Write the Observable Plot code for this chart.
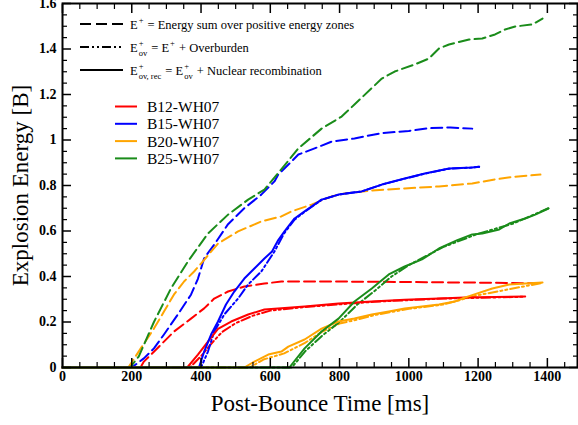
<!DOCTYPE html>
<html><head><meta charset="utf-8">
<script src="https://cdn.jsdelivr.net/npm/d3@7"></script>
<script src="https://cdn.jsdelivr.net/npm/@observablehq/plot@0.6"></script>
<style>
body{margin:0;background:#fff}
#chart{position:relative;width:578px;height:425px;overflow:hidden}
</style>
</head><body><div id="chart"></div>
<script>
// ---------- data ----------
const models = ["B12-WH07","B15-WH07","B20-WH07","B25-WH07"];
const modelColors = ["#ff0000","#0000ff","#ffa500","#1a8c1a"];

const xMajorTicks = [0,200,400,600,800,1000,1200,1400];
const xTickLabels = ["0","200","400","600","800","1000","1200","1400"];
const yMajorTicks = [0,0.2,0.4,0.6,0.8,1.0,1.2,1.4,1.6];
const yTickLabels = ["0","0.2","0.4","0.6","0.8","1","1.2","1.4","1.6"];

const xLabel = "Post-Bounce Time [ms]";
const yLabel = "Explosion Energy [B]";

// B12 – red
const b12PosT = [0,225,235,284,322,371,409,438,478,525,583,632,750,900,1050,1200,1362];
const b12PosE = [0,0,0.026,0.10,0.158,0.215,0.26,0.303,0.334,0.356,0.369,0.378,0.378,0.377,0.375,0.373,0.370];
const b12OvT  = [0,368,400,430,460,500,550,600,700,900,1100,1336];
const b12OvE  = [0,0,0.05,0.105,0.155,0.195,0.228,0.25,0.266,0.289,0.303,0.311];
const b12RecT = [0,360,391,420,449,487,536,583,632,699,797,893,988,1087,1162,1336];
const b12RecE = [0,0,0.057,0.114,0.17,0.202,0.233,0.255,0.26,0.268,0.281,0.29,0.298,0.303,0.308,0.312];

// B15 – blue
const b15PosT = [0,200,235,264,293,333,371,391,409,438,478,525,574,612,623,661,681,728,777,843,922,1000,1060,1120,1183];
const b15PosE = [0,0,0.04,0.084,0.145,0.233,0.32,0.39,0.48,0.54,0.63,0.70,0.76,0.818,0.848,0.905,0.936,0.963,0.993,1.007,1.03,1.04,1.052,1.055,1.05];
const b15OvT  = [0,400,420,438,467,507,536,574,612,640,670,699,748,797,864,922,988,1046,1116,1183,1203];
const b15OvE  = [0,0,0.07,0.158,0.233,0.303,0.365,0.422,0.51,0.59,0.65,0.684,0.737,0.76,0.774,0.804,0.83,0.852,0.874,0.879,0.882];
const b15RecT = [0,394,409,429,449,472,496,525,554,583,605,612,623,641,670,699,748,797,864,922,988,1046,1116,1183,1203];
const b15RecE = [0,0,0.07,0.145,0.202,0.277,0.334,0.391,0.435,0.479,0.51,0.53,0.56,0.598,0.655,0.686,0.738,0.76,0.774,0.804,0.831,0.853,0.875,0.879,0.882];

// B20 – orange
const b20PosT = [0,190,226,264,293,322,351,380,400,449,507,574,632,661,719,777,814,893,988,1087,1183,1250,1300,1340,1380];
const b20PosE = [0,0,0.084,0.171,0.246,0.321,0.378,0.422,0.457,0.545,0.598,0.642,0.664,0.686,0.716,0.752,0.765,0.778,0.787,0.796,0.809,0.827,0.838,0.843,0.848];
const b20OvT  = [0,540,580,640,700,750,800,850,900,1000,1100,1200,1386];
const b20OvE  = [0,0,0.035,0.062,0.108,0.158,0.193,0.21,0.23,0.258,0.277,0.318,0.372];
const b20RecT = [0,525,554,594,632,652,699,748,797,843,893,942,988,1038,1087,1133,1154,1183,1241,1290,1336,1386];
const b20RecE = [0,0,0.026,0.057,0.07,0.092,0.123,0.171,0.202,0.215,0.233,0.246,0.259,0.268,0.277,0.29,0.303,0.318,0.347,0.365,0.369,0.374];

// B25 – green
const b25PosT = [0,195,220,264,313,362,420,478,536,583,623,681,748,806,843,922,959,1017,1058,1087,1116,1174,1212,1249,1278,1307,1357,1386];
const b25PosE = [0,0,0.048,0.20,0.347,0.466,0.589,0.672,0.738,0.782,0.855,0.963,1.05,1.103,1.156,1.27,1.301,1.332,1.358,1.402,1.42,1.442,1.446,1.464,1.486,1.499,1.508,1.534];
const b25OvT  = [0,662,700,750,800,850,900,950,1000,1100,1200,1300,1403];
const b25OvE  = [0,0,0.07,0.14,0.2,0.275,0.335,0.40,0.45,0.53,0.588,0.632,0.70];
const b25RecT = [0,655,699,748,797,843,893,942,988,1038,1087,1140,1183,1212,1261,1290,1336,1365,1403];
const b25RecE = [0,0,0.084,0.158,0.215,0.29,0.347,0.409,0.444,0.475,0.523,0.56,0.585,0.589,0.607,0.633,0.655,0.672,0.699];

const kinds = ["pos","ov","rec"];
const kindDash = {pos: "11,5", ov: "9,3,2,3,2,3", rec: null};

// ---------- build table ----------
const seriesList = [
  [models[0],"pos",b12PosT,b12PosE],[models[0],"ov",b12OvT,b12OvE],[models[0],"rec",b12RecT,b12RecE],
  [models[1],"pos",b15PosT,b15PosE],[models[1],"ov",b15OvT,b15OvE],[models[1],"rec",b15RecT,b15RecE],
  [models[2],"pos",b20PosT,b20PosE],[models[2],"ov",b20OvT,b20OvE],[models[2],"rec",b20RecT,b20RecE],
  [models[3],"pos",b25PosT,b25PosE],[models[3],"ov",b25OvT,b25OvE],[models[3],"rec",b25RecT,b25RecE]
];
const rows = seriesList.flatMap(([model, kind, ts, es]) => ts.map((t, i) => ({model, kind, t, e: es[i]})));

const xMinor = d3.range(0, 1500, 50).filter(v => v % 200 !== 0);
const yMinor = d3.range(0, 1.6001, 0.05).filter((v, i) => i % 4 !== 0);
const blank = () => "";

const lineMarks = kinds.map(k => Plot.line(rows.filter(r => r.kind === k), {
  x: "t", y: "e", z: "model", stroke: "model", strokeWidth: 2,
  strokeDasharray: kindDash[k] || undefined
}));

const plot = Plot.plot({
  width: 578, height: 425,
  marginLeft: 62, marginRight: 1, marginTop: 3, marginBottom: 58,
  style: {fontFamily: "'Liberation Serif', 'Times New Roman', serif", fontSize: "14px", background: "white", color: "black"},
  x: {domain: [0, 1487], axis: null},
  y: {domain: [0, 1.6], axis: null},
  color: {domain: models, range: modelColors},
  marks: [
    ...lineMarks,
    Plot.frame({stroke: "black", strokeWidth: 2}),
    Plot.axisX({anchor: "bottom", ticks: xMajorTicks, tickSize: -9, tickFormat: blank, strokeWidth: 1.5, label: null}),
    Plot.axisX({anchor: "bottom", ticks: xMinor, tickSize: -5, tickFormat: blank, strokeWidth: 1.2, label: null}),
    Plot.axisX({anchor: "top", ticks: xMajorTicks, tickSize: -9, tickFormat: blank, strokeWidth: 1.5, label: null}),
    Plot.axisX({anchor: "top", ticks: xMinor, tickSize: -5, tickFormat: blank, strokeWidth: 1.2, label: null}),
    Plot.axisY({anchor: "left", ticks: yMajorTicks, tickSize: -9, tickFormat: blank, strokeWidth: 1.5, label: null}),
    Plot.axisY({anchor: "left", ticks: yMinor, tickSize: -5, tickFormat: blank, strokeWidth: 1.2, label: null}),
    Plot.axisY({anchor: "right", ticks: yMajorTicks, tickSize: -9, tickFormat: blank, strokeWidth: 1.5, label: null}),
    Plot.axisY({anchor: "right", ticks: yMinor, tickSize: -5, tickFormat: blank, strokeWidth: 1.2, label: null}),
    Plot.axisX({anchor: "bottom", ticks: xMajorTicks, tickSize: 0, tickPadding: 4,
      tickFormat: (d) => xTickLabels[xMajorTicks.indexOf(d)], fontSize: 14, fontWeight: "bold", label: null}),
    Plot.axisY({anchor: "left", ticks: yMajorTicks, tickSize: 0, tickPadding: 6,
      tickFormat: (d) => yTickLabels[yMajorTicks.indexOf(d)], fontSize: 14, fontWeight: "bold", label: null}),
    Plot.text([xLabel], {text: d => d, frameAnchor: "bottom", textAnchor: "middle", dy: 43, fontSize: 23}),
    Plot.text([yLabel], {text: d => d, frameAnchor: "left", textAnchor: "middle", rotate: -90, dx: -42, fontSize: 23})
  ]
});
document.getElementById("chart").appendChild(plot);

// ---------- legends ----------
const svg = d3.select(plot);
const lg = svg.append("g")
  .attr("font-family", "'Liberation Serif', 'Times New Roman', serif")
  .attr("text-anchor", "start")
  .attr("fill", "black");

function rich(g, x, y, parts) {
  let cx = x;
  for (const p of parts) {
    if (typeof p === "string") {
      const t = g.append("text").attr("x", cx).attr("y", y).attr("font-size", 12.5)
        .attr("text-anchor", "start").style("white-space", "pre").attr("xml:space", "preserve").text(p);
      cx += t.node().getComputedTextLength();
    } else {
      let w = 0;
      if (p.sup) {
        const t = g.append("text").attr("x", cx + 1).attr("y", y - 6).attr("font-size", 8.5)
          .attr("text-anchor", "start").text(p.sup);
        w = Math.max(w, t.node().getComputedTextLength() + 1);
      }
      if (p.sub) {
        const t = g.append("text").attr("x", cx + 1).attr("y", y + 4).attr("font-size", 8.5)
          .attr("text-anchor", "start").text(p.sub);
        w = Math.max(w, t.node().getComputedTextLength() + 1);
      }
      cx += w + 1;
    }
  }
}

const styleRows = [
  {dash: kindDash.pos, parts: ["E", {sup: "+"}, " = Energy sum over positive energy zones"]},
  {dash: kindDash.ov, parts: ["E", {sup: "+", sub: "ov"}, " = E", {sup: "+"}, " + Overburden"]},
  {dash: null, parts: ["E", {sup: "+", sub: "ov, rec"}, " = E", {sup: "+", sub: "ov"}, " + Nuclear recombination"]}
];
const styleY = [24, 47, 70];
styleRows.forEach((r, i) => {
  const y = styleY[i];
  lg.append("line").attr("x1", 80).attr("x2", 123).attr("y1", y).attr("y2", y)
    .attr("stroke", "black").attr("stroke-width", 2).attr("stroke-dasharray", r.dash);
  rich(lg, 130, y + 4.5, r.parts);
});

models.forEach((m, i) => {
  const y = 106.5 + i * 17.3;
  lg.append("line").attr("x1", 115).attr("x2", 137).attr("y1", y).attr("y2", y)
    .attr("stroke", modelColors[i]).attr("stroke-width", 2);
  lg.append("text").attr("x", 147).attr("y", y + 5.5).attr("font-size", 15.5)
    .attr("text-anchor", "start").text(m);
});
</script>
</body></html>
